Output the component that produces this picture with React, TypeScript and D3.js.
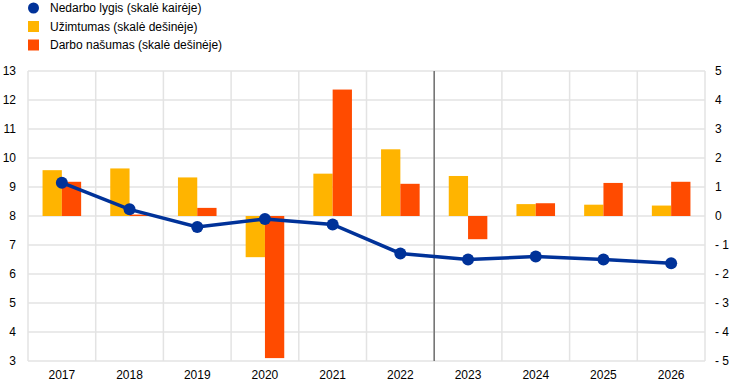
import React, { useEffect, useRef } from 'react';
import * as d3 from 'd3';

// years on the x axis
const years = ['2017', '2018', '2019', '2020', '2021', '2022', '2023', '2024', '2025', '2026'];
// unemployment rate, left axis (%)
const unemployment = [9.15, 8.23, 7.62, 7.9, 7.71, 6.71, 6.5, 6.6, 6.5, 6.37];
// employment growth, right axis
const employment = [1.58, 1.64, 1.33, -1.42, 1.46, 2.3, 1.38, 0.41, 0.39, 0.36];
// labour productivity growth, right axis
const productivity = [1.18, 0.05, 0.28, -4.9, 4.36, 1.11, -0.8, 0.44, 1.14, 1.18];

const leftTicks = [3, 4, 5, 6, 7, 8, 9, 10, 11, 12, 13];
const rightTicks = [-5, -4, -3, -2, -1, 0, 1, 2, 3, 4, 5];

const legendItems = [
  { label: 'Nedarbo lygis (skalė kairėje)', color: '#003299', shape: 'circle' },
  { label: 'Užimtumas (skalė dešinėje)', color: '#FFB400', shape: 'rect' },
  { label: 'Darbo našumas (skalė dešinėje)', color: '#FF4B00', shape: 'rect' },
];

const width = 744;
const height = 391;
const margin = { top: 71, right: 39, bottom: 30, left: 28 };

const App = () => {
  const ref = useRef<SVGSVGElement>(null);

  useEffect(() => {
    const svg = d3.select(ref.current);
    svg.selectAll('*').remove();

    const x = d3.scaleBand().domain(years).range([margin.left, width - margin.right]);
    const yL = d3.scaleLinear().domain([3, 13]).range([height - margin.bottom, margin.top]);
    const yR = d3.scaleLinear().domain([-5, 5]).range([height - margin.bottom, margin.top]);
    const bw = x.bandwidth() * 0.285;

    const font = 'Liberation Sans, Arial, sans-serif';

    // grid
    const grid = svg.append('g');
    grid.selectAll('line.h')
      .data(leftTicks)
      .join('line')
      .attr('x1', margin.left).attr('x2', width - margin.right)
      .attr('y1', d => yL(d)).attr('y2', d => yL(d))
      .attr('stroke', '#e3e3e3').attr('stroke-width', 1.5);
    const bounds = years.map(y => x(y)!).concat([width - margin.right]);
    grid.selectAll('line.v')
      .data(bounds)
      .join('line')
      .attr('x1', d => d).attr('x2', d => d)
      .attr('y1', margin.top).attr('y2', height - margin.bottom)
      .attr('stroke', '#e3e3e3').attr('stroke-width', 1.5);

    // bars
    const bars = svg.append('g');
    bars.selectAll('rect.emp')
      .data(employment)
      .join('rect')
      .attr('x', (d, i) => x(years[i])! + x.bandwidth() / 2 - bw)
      .attr('width', bw)
      .attr('y', d => yR(Math.max(0, d)))
      .attr('height', d => Math.abs(yR(d) - yR(0)))
      .attr('fill', '#FFB400');
    bars.selectAll('rect.prod')
      .data(productivity)
      .join('rect')
      .attr('x', (d, i) => x(years[i])! + x.bandwidth() / 2)
      .attr('width', bw)
      .attr('y', d => yR(Math.max(0, d)))
      .attr('height', d => Math.abs(yR(d) - yR(0)))
      .attr('fill', '#FF4B00');

    // projection divider
    const div = x('2023')!;
    svg.append('line')
      .attr('x1', div).attr('x2', div)
      .attr('y1', margin.top).attr('y2', height - margin.bottom)
      .attr('stroke', '#707070').attr('stroke-width', 1.5);

    // line
    const line = d3.line<number>()
      .x((d, i) => x(years[i])! + x.bandwidth() / 2)
      .y(d => yL(d));
    svg.append('path')
      .datum(unemployment)
      .attr('d', line)
      .attr('fill', 'none')
      .attr('stroke', '#003299')
      .attr('stroke-width', 3.5);
    svg.append('g')
      .selectAll('circle')
      .data(unemployment)
      .join('circle')
      .attr('cx', (d, i) => x(years[i])! + x.bandwidth() / 2)
      .attr('cy', d => yL(d))
      .attr('r', 6)
      .attr('fill', '#003299');

    // axes labels
    svg.append('g')
      .selectAll('text')
      .data(leftTicks)
      .join('text')
      .attr('x', 16).attr('y', d => yL(d))
      .attr('dy', '0.35em')
      .attr('text-anchor', 'end')
      .attr('font-family', font).attr('font-size', 12)
      .text(d => d);
    svg.append('g')
      .selectAll('text')
      .data(rightTicks)
      .join('text')
      .attr('x', 715).attr('y', d => yR(d))
      .attr('dy', '0.35em')
      .attr('text-anchor', 'start')
      .attr('font-family', font).attr('font-size', 12)
      .text(d => (d < 0 ? '- ' + Math.abs(d) : d));
    svg.append('g')
      .selectAll('text')
      .data(years)
      .join('text')
      .attr('x', d => x(d)! + x.bandwidth() / 2)
      .attr('y', height - margin.bottom + 18)
      .attr('text-anchor', 'middle')
      .attr('font-family', font).attr('font-size', 12)
      .text(d => d);

    // legend
    const leg = svg.append('g');
    legendItems.forEach((it, i) => {
      const cy = 8 + i * 18.5;
      if (it.shape === 'circle') {
        leg.append('circle').attr('cx', 33.5).attr('cy', cy).attr('r', 5.5).attr('fill', it.color);
      } else {
        leg.append('rect').attr('x', 28).attr('y', cy - 5.5).attr('width', 11).attr('height', 11).attr('fill', it.color);
      }
      leg.append('text')
        .attr('x', 50).attr('y', cy)
        .attr('dy', '0.35em')
        .attr('font-family', font).attr('font-size', 12)
        .text(it.label);
    });
  }, []);

  return (
    <svg ref={ref} width={width} height={height} style={{ position: 'absolute', left: 0, top: 0, background: '#fff' }} />
  );
};

export default App;
